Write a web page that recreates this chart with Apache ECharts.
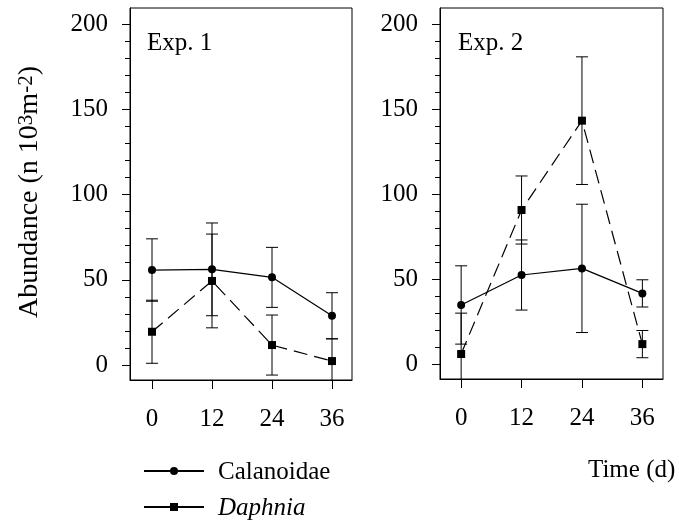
<!DOCTYPE html>
<html>
<head>
<meta charset="utf-8">
<script src="https://cdn.jsdelivr.net/npm/echarts@6/dist/echarts.min.js"></script>
<style>
  html, body { margin: 0; padding: 0; background: #fff; }
  #chart { width: 679px; height: 523px; }
</style>
</head>
<body>
<div id="chart"></div>
<script>
// ---- data ----
const times = [0, 12, 24, 36];
const xTickLabels = [0, 12, 24, 36];
const yTickLabels = [0, 50, 100, 150, 200];
const yMinorTicks = [0, 10, 20, 30, 40, 50, 60, 70, 80, 90, 100, 110, 120, 130, 140, 150, 160, 170, 180, 190, 200];

const calExp1 = [55.7, 56.1, 51.4, 28.9];
const calExp1Err = [18.3, 27.2, 17.6, 13.5];
const daphExp1 = [19.5, 49.3, 11.7, 2.3];
const daphExp1Err = [18.5, 27.5, 17.6, 13.0];

const calExp2 = [34.9, 52.5, 56.4, 41.7];
const calExp2Err = [23.0, 20.6, 37.7, 8.0];
const daphExp2 = [6.1, 90.7, 143.2, 11.9];
const daphExp2Err = [24.0, 20.0, 37.5, 8.0];

const panelLabels = ['Exp. 1', 'Exp. 2'];
const seriesNames = ['Calanoidae', 'Daphnia'];

// ---- chart ----
const FONT = "'Liberation Serif', 'Times New Roman', serif";
const chart = echarts.init(document.getElementById('chart'), null, { renderer: 'canvas' });

function pairs(xs, ys) { return xs.map((x, i) => [x, ys[i]]); }
function errData(xs, ys, es) { return xs.map((x, i) => [x, ys[i] - es[i], ys[i] + es[i]]); }

function errSeries(name, xi, data) {
  return {
    name: name, type: 'custom', xAxisIndex: xi, yAxisIndex: xi * 2, clip: true, z: 3,
    silent: true,
    renderItem: function (params, api) {
      const x = api.value(0);
      const lo = api.coord([x, api.value(1)]);
      const hi = api.coord([x, api.value(2)]);
      const w = 6;
      const st = { stroke: '#000', lineWidth: 1 };
      return {
        type: 'group',
        children: [
          { type: 'line', shape: { x1: lo[0], y1: lo[1], x2: hi[0], y2: hi[1] }, style: st },
          { type: 'line', shape: { x1: lo[0] - w, y1: lo[1], x2: lo[0] + w, y2: lo[1] }, style: st },
          { type: 'line', shape: { x1: hi[0] - w, y1: hi[1], x2: hi[0] + w, y2: hi[1] }, style: st }
        ]
      };
    },
    data: data
  };
}

function lineSeries(name, xi, data, dashed, symbol) {
  return {
    name: name, type: 'line', xAxisIndex: xi, yAxisIndex: xi * 2, z: 4,
    data: data, symbol: symbol, symbolSize: 8,
    itemStyle: { color: '#000' },
    lineStyle: { color: '#000', width: 1.2, type: dashed ? [14, 7] : 'solid' },
    emphasis: { disabled: true },
    animation: false
  };
}

const grids = [
  { left: 130, top: 8, width: 222, height: 372 },
  { left: 440, top: 8, width: 223, height: 371 }
];
const xRanges = [[-4.4, 40], [-4.2, 40.1]];
const yRanges = [[-8.8, 209.4], [-8.6, 209.4]];

const xAxes = grids.map((g, i) => ({
  type: 'value', gridIndex: i, min: xRanges[i][0], max: xRanges[i][1],
  axisLine: { show: true, onZero: false, lineStyle: { color: '#000', width: 1 } },
  axisTick: { show: true, inside: false, length: 9, customValues: xTickLabels, lineStyle: { color: '#000' } },
  axisLabel: { customValues: xTickLabels, margin: 27, color: '#000', fontFamily: FONT, fontSize: 25 },
  splitLine: { show: false }
}));

const yAxes = [];
grids.forEach((g, i) => {
  yAxes.push({
    type: 'value', gridIndex: i, min: yRanges[i][0], max: yRanges[i][1], position: 'left',
    axisLine: { show: true, onZero: false, lineStyle: { color: '#000', width: 1 } },
    axisTick: { show: true, inside: false, length: 8, customValues: yTickLabels, lineStyle: { color: '#000' } },
    axisLabel: { customValues: yTickLabels, margin: 22, color: '#000', fontFamily: FONT, fontSize: 25 },
    splitLine: { show: false }
  });
  yAxes.push({
    type: 'value', gridIndex: i, min: yRanges[i][0], max: yRanges[i][1], position: 'left',
    axisLine: { show: false, onZero: false },
    axisTick: { show: true, inside: false, length: 5, customValues: yMinorTicks, lineStyle: { color: '#000' } },
    axisLabel: { show: false },
    splitLine: { show: false }
  });
});

// legend icons from ECharts; legend labels drawn as text so the serif font is honoured
function legendFor(name, top) {
  return {
    orient: 'vertical', left: 143, top: top, padding: 0,
    itemWidth: 60, itemHeight: 10,
    selectedMode: false,
    formatter: function () { return ''; },
    textStyle: { fontSize: 25, lineHeight: 26 },
    data: [{ name: name, lineStyle: { type: 'solid' } }]
  };
}

const option = {
  backgroundColor: '#fff',
  animation: false,
  textStyle: { fontFamily: FONT },
  grid: grids.map(g => Object.assign({ show: true, borderColor: '#000', borderWidth: 1, backgroundColor: 'transparent' }, g)),
  xAxis: xAxes,
  yAxis: yAxes,
  legend: [
    legendFor(seriesNames[0], 467),
    legendFor(seriesNames[1], 503)
  ],
  graphic: [
    { type: 'text', left: 147, top: 31, style: { text: panelLabels[0], font: '25px ' + FONT, fill: '#000' } },
    { type: 'text', left: 458, top: 31, style: { text: panelLabels[1], font: '25px ' + FONT, fill: '#000' } },
    { type: 'text', x: 588, y: 458, style: { text: 'Time (d)', font: '25px ' + FONT, fill: '#000' } },
    { type: 'text', x: 218, y: 472, style: { text: seriesNames[0], font: '25px ' + FONT, fill: '#000', verticalAlign: 'middle' } },
    { type: 'text', x: 218, y: 508, style: { text: seriesNames[1], font: 'italic 25px ' + FONT, fill: '#000', verticalAlign: 'middle' } },
    {
      type: 'text', x: 29.5, y: 192, rotation: Math.PI / 2,
      style: {
        text: '{a|Abundance (n 10}{s|3}{a|m}{s|-2}{a|)}',
        align: 'center', verticalAlign: 'middle', fill: '#000',
        rich: {
          a: { fontFamily: FONT, fontSize: 28, lineHeight: 28, verticalAlign: 'bottom', fill: '#000' },
          s: { fontFamily: FONT, fontSize: 21, lineHeight: 21, verticalAlign: 'top', padding: [0, 0, 24, 0], fill: '#000' }
        }
      }
    }
  ],
  series: [
    errSeries('e1', 0, errData(times, calExp1, calExp1Err)),
    errSeries('e2', 0, errData(times, daphExp1, daphExp1Err)),
    lineSeries(seriesNames[0], 0, pairs(times, calExp1), false, 'circle'),
    lineSeries(seriesNames[1], 0, pairs(times, daphExp1), true, 'rect'),
    errSeries('e3', 1, errData(times, calExp2, calExp2Err)),
    errSeries('e4', 1, errData(times, daphExp2, daphExp2Err)),
    lineSeries(seriesNames[0], 1, pairs(times, calExp2), false, 'circle'),
    lineSeries(seriesNames[1], 1, pairs(times, daphExp2), true, 'rect')
  ]
};
chart.setOption(option);
</script>
</body>
</html>
